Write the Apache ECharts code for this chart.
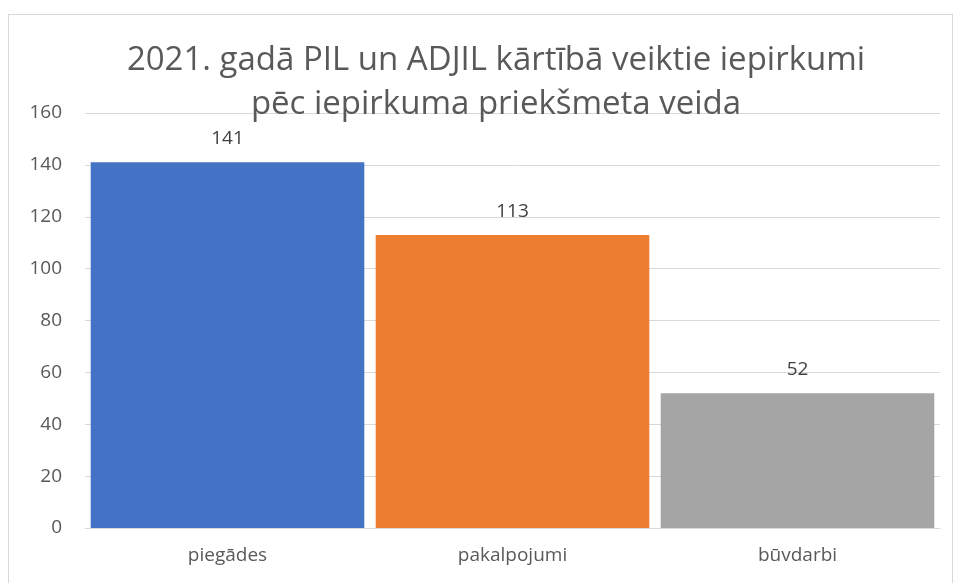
<!DOCTYPE html>
<html>
<head>
<meta charset="utf-8">
<script src="https://cdn.jsdelivr.net/npm/echarts@6/dist/echarts.min.js"></script>
<style>
  html, body { margin: 0; padding: 0; background: #fff; }
  #frame {
    position: absolute; left: 8px; top: 14px; width: 943px; height: 580px;
    border: 1px solid #d9d9d9; border-bottom: none;
  }
  #chart { width: 955px; height: 583px; position: absolute; left: 0; top: 0; }
</style>
</head>
<body>
<div id="frame"></div>
<div id="chart"></div>
<script>
var categories = ['piegādes', 'pakalpojumi', 'būvdarbi'];
var values = [141, 113, 52];
var colors = ['#4472C4', '#ED7D31', '#A5A5A5'];
var titleText = '2021. gadā PIL un ADJIL kārtībā veiktie iepirkumi\npēc iepirkuma priekšmeta veida';

var myChart = echarts.init(document.getElementById('chart'));

var option = {
    backgroundColor: 'transparent',
    textStyle: { fontFamily: 'Open Sans' },
    title: {
        text: titleText,
        left: 491,
        top: 34,
        textAlign: 'center',
        textStyle: {
            fontFamily: 'Open Sans',
            fontSize: 33,
            fontWeight: 'normal',
            color: '#595959',
            lineHeight: 44
        }
    },
    grid: { left: 85, right: 15, top: 113, bottom: 55 },
    xAxis: {
        type: 'category',
        data: categories,
        axisLine: { lineStyle: { color: '#d9d9d9', width: 1 } },
        axisTick: { show: false },
        axisLabel: { color: '#595959', fontSize: 19, margin: 18 }
    },
    yAxis: {
        type: 'value',
        min: 0,
        max: 160,
        interval: 20,
        axisLine: { show: false },
        axisTick: { show: false },
        splitLine: { lineStyle: { color: '#d9d9d9', width: 1 } },
        axisLabel: { color: '#595959', fontSize: 19, margin: 23 }
    },
    series: [{
        type: 'bar',
        barCategoryGap: '4%',
        data: values.map(function (v, i) {
            return { value: v, itemStyle: { color: colors[i] } };
        }),
        label: {
            show: true,
            position: 'top',
            distance: 14,
            color: '#404040',
            fontSize: 19
        }
    }]
};

myChart.setOption(option);
</script>
</body>
</html>
